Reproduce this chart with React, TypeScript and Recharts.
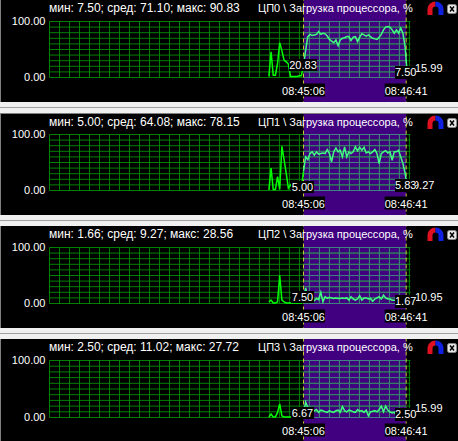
import React from "react";
import { LineChart, Line, XAxis, YAxis, ReferenceArea, ReferenceLine } from "recharts";

// seconds relative to 08:45:06
const sampleSeconds = [
  -32, -30, -28, -26, -24, -22, -20, -18, -16, -14, -12, -10, -8, -6, -4, -2,
  0, 2, 4, 6, 8, 10, 12, 14, 16, 18, 20, 22, 24, 26, 28, 30, 32, 34, 36, 38, 40, 42, 44, 46, 48,
  50, 52, 54, 56, 58, 60, 62, 64, 66, 68, 70, 72, 74, 76, 78, 80, 82, 84, 86, 88, 90, 92, 94, 96, 98,
];

const cpu0Values = [
  2, 46, 4, 4, 25, 62, 48, 31, 28, 24, 2, 2, 2, 2, 3, 3,
  21, 49, 73, 77, 75, 76, 77, 82, 77, 79, 78, 74, 68, 65, 62, 67, 57, 67, 70, 71,
  73, 73, 66, 72, 73, 64, 72, 78, 76, 74, 76, 73, 70, 69, 68, 72, 77, 85, 90, 91,
  90, 85, 79, 85, 79, 88, 79, 55, 7.5, 12,
];
const cpu1Values = [
  1, 40, 2, 2, 25, 2, 79, 55, 31, 4, 10, 5, 5, 4, 4, 5,
  34, 60, 55, 66, 69, 63, 69, 65, 66, 67, 66, 73, 66, 51, 69, 76, 69, 72, 60, 78,
  60, 69, 66, 69, 78, 71, 77, 72, 77, 67, 69, 66, 69, 73, 66, 48, 66, 69, 71, 67,
  69, 54, 69, 69, 72, 60, 48, 31, 6, 6,
];
const cpu2Values = [
  3, 6, 1, 1, 3, 50, 6, 3, 1, 1, 1, 1, 1, 1, 1, 1,
  7.5, 28, 10, 8, 6, 5, 9, 7, 20, 3, 12, 9, 11, 10, 9, 10, 9, 9, 10, 9,
  10, 6, 12, 8, 6, 8, 14, 6, 10, 10, 8, 9, 4, 8, 10, 12, 8, 15, 10, 8,
  8, 6, 6, 5, 5, 4, 4, 3, 2, 1.67,
];
const cpu3Values = [
  1, 6, 1, 1, 9, 24, 3, 1, 1, 1, 1, 1, 1, 1, 1, 1,
  7, 27, 18, 14, 12, 12, 14, 9, 13, 12, 10, 9, 12, 10, 9, 12, 13, 9, 19, 12,
  10, 13, 12, 10, 9, 14, 11, 12, 9, 13, 3, 10, 11, 12, 10, 14, 20, 10, 20, 13,
  10, 8, 9, 3, 5, 6, 4, 3, 2.5, 2.5,
];

const seriesValues = [cpu0Values, cpu1Values, cpu2Values, cpu3Values];
const statsLabels = [
  "мин: 7.50; сред: 71.10; макс: 90.83",
  "мин: 5.00; сред: 64.08; макс: 78.15",
  "мин: 1.66; сред: 9.27; макс: 28.56",
  "мин: 2.50; сред: 11.02; макс: 27.72",
];
const titleLabels = [
  "ЦП0 \\ Загрузка процессора, %",
  "ЦП1 \\ Загрузка процессора, %",
  "ЦП2 \\ Загрузка процессора, %",
  "ЦП3 \\ Загрузка процессора, %",
];
const startLabels = ["20.83", "5.00", "7.50", "6.67"];
const endLabels = ["7.50", "5.83", "1.67", "2.50"];
const sideLabels = ["15.99", "9.27", "10.95", "15.99"];
const timeTicks = [0, 95];
const timeLabels = ["08:45:06", "08:46:41"];

// layout, in page pixels
const panelBoxes = [
  { top: 0, bottom: 102, plotTop: 21.5, plotBottom: 77.5, startY: 59, endY: 66, sideX: 414, sideY: 61 },
  { top: 114, bottom: 215, plotTop: 134.5, plotBottom: 190.5, startY: 181, endY: 179, sideX: 412, sideY: 178 },
  { top: 226, bottom: 328, plotTop: 247.5, plotBottom: 303.5, startY: 291, endY: 295, sideX: 414, sideY: 290 },
  { top: 339, bottom: 441, plotTop: 360.5, plotBottom: 417.5, startY: 407, endY: 408, sideX: 414, sideY: 401 },
];

const WIDTH = 458;
const X_DOMAIN: [number, number] = [-235, 99];
const BAND_START = 0;
const BAND_END = 95;
const PURPLE = "#400080";
const GRID_GREEN = "#008000";
const GRID_IN_BAND = "#408080";
const FONT = '"Liberation Sans", Arial, sans-serif';

const gridSeconds = Array.from({ length: 37 }, (_, i) => -235 + i * 9.25);
const gridPercents = [0, 10, 20, 30, 40, 50, 60, 70, 80, 90, 100];

const TimeTick = ({ x, y, payload }: any) => {
  const label = timeLabels[timeTicks.indexOf(payload.value)];
  return (
    <g>
      <rect x={x - 21.5} y={y - 2} width={43} height={13} fill="#000" />
      <text x={x} y={y + 9} textAnchor="middle" fontFamily={FONT} fontSize={11} fill="#fff">
        {label}
      </text>
    </g>
  );
};

const BoxLabel = ({ text, left, top, width, height }: any) => (
  <div
    style={{
      position: "absolute",
      left,
      top,
      width,
      height,
      lineHeight: `${height}px`,
      background: "#000",
      color: "#fff",
      font: `11px ${FONT}`,
      textAlign: "center",
      whiteSpace: "nowrap",
    }}
  >
    {text}
  </div>
);

const Panel = ({ index }: { index: number }) => {
  const box = panelBoxes[index];
  const height = box.bottom - box.top;
  const values = seriesValues[index];
  const data = sampleSeconds.map((t, i) => ({
    t,
    before: t <= 0 ? values[i] : null,
    inside: t >= 0 ? values[i] : null,
  }));
  const textStyle: React.CSSProperties = {
    position: "absolute",
    color: "#fff",
    font: `12px ${FONT}`,
    whiteSpace: "nowrap",
    lineHeight: "14px",
  };

  return (
    <div
      style={{
        position: "absolute",
        left: 0,
        top: box.top,
        width: WIDTH,
        height,
        background: "#000",
        borderLeft: "1px solid #808080",
        boxSizing: "border-box",
        overflow: "hidden",
      }}
    >
      <div style={{ position: "absolute", left: -1, top: 0 }}>
        <LineChart
          width={WIDTH}
          height={height}
          data={data}
          margin={{ top: box.plotTop - box.top, right: 47.5, bottom: 0, left: 0 }}
        >
          {gridSeconds.map((t) => (
            <ReferenceLine
              key={`gv${t}`}
              segment={[
                { x: t, y: 0 },
                { x: t, y: 100 },
              ]}
              stroke={GRID_GREEN}
            />
          ))}
          {gridPercents.map((p) => (
            <ReferenceLine
              key={`gh${p}`}
              segment={[
                { x: X_DOMAIN[0], y: p },
                { x: X_DOMAIN[1], y: p },
              ]}
              stroke={GRID_GREEN}
            />
          ))}
          <ReferenceArea
            x1={BAND_START}
            x2={BAND_END}
            y1={-100}
            y2={200}
            ifOverflow="visible"
            fill={PURPLE}
            fillOpacity={1}
            stroke="none"
          />
          {gridSeconds
            .filter((t) => t > BAND_START && t < BAND_END)
            .map((t) => (
              <ReferenceLine
                key={`v${t}`}
                segment={[
                  { x: t, y: 0 },
                  { x: t, y: 100 },
                ]}
                stroke={GRID_IN_BAND}
              />
            ))}
          {gridPercents.map((p) => (
            <ReferenceLine
              key={`h${p}`}
              segment={[
                { x: BAND_START, y: p },
                { x: BAND_END, y: p },
              ]}
              stroke={GRID_IN_BAND}
            />
          ))}
          <XAxis
            dataKey="t"
            type="number"
            domain={X_DOMAIN}
            allowDataOverflow
            ticks={timeTicks}
            height={box.bottom - box.plotBottom}
            axisLine={false}
            tickLine={false}
            tick={<TimeTick />}
            interval={0}
          />
          <YAxis
            type="number"
            domain={[0, 100]}
            ticks={[0, 100]}
            width={49.5}
            axisLine={false}
            tickLine={false}
            tickMargin={-2}
            tickFormatter={(v: number) => v.toFixed(2)}
            tick={{ fill: "#fff", fontFamily: FONT, fontSize: 11 }}
          />
          {timeTicks.map((t) => (
            <ReferenceLine
              key={t}
              segment={[
                { x: t, y: -100 },
                { x: t, y: 200 },
              ]}
              ifOverflow="visible"
              stroke="#c8c832"
              strokeDasharray="4 3"
            />
          ))}
          <Line
            dataKey="before"
            type="linear"
            stroke="#00ff00"
            strokeWidth={1.5}
            dot={false}
            isAnimationActive={false}
          />
          <Line
            dataKey="inside"
            type="linear"
            stroke="#40ff80"
            strokeWidth={1.5}
            dot={false}
            isAnimationActive={false}
          />
        </LineChart>
      </div>

      <div style={{ ...textStyle, left: 48, top: 1 }}>{statsLabels[index]}</div>
      <div style={{ ...textStyle, left: 257, top: 1, fontSize: 11 }}>{titleLabels[index]}</div>
      <div style={{ ...textStyle, left: box.sideX, top: box.sideY - box.top, fontSize: 11 }}>{sideLabels[index]}</div>
      <BoxLabel text={startLabels[index]} left={index === 0 ? 288 : 290} top={box.startY - box.top} width={index === 0 ? 28 : 23} height={12} />
      <BoxLabel text={endLabels[index]} left={394} top={box.endY - box.top} width={21} height={13} />

      <svg style={{ position: "absolute", left: 423.5, top: 1 }} width={33} height={16}>
        <path d="M5 14 V8 A5.5 5.5 0 0 1 10.5 3" fill="none" stroke="#e01020" strokeWidth={5} />
        <path d="M10.5 3 A5.5 5.5 0 0 1 16 8 V14" fill="none" stroke="#1020e0" strokeWidth={5} />
        <rect x={22.5} y={3.5} width={9} height={9} rx={2} fill="#e8e8e8" stroke="#888" />
        <path d="M25 5.5 L29 10.5 M29 5.5 L25 10.5" stroke="#000" strokeWidth={1.5} />
      </svg>
    </div>
  );
};

const separatorYs = [102, 215, 328];

export default function App() {
  return (
    <div
      style={{
        position: "absolute",
        left: 0,
        top: 0,
        width: WIDTH,
        height: 441,
        background: "#f0f0f0",
        overflow: "hidden",
      }}
    >
      {separatorYs.map((y) => (
        <React.Fragment key={y}>
          <div style={{ position: "absolute", left: 0, top: y + 5, width: WIDTH, height: 1, background: "#a0a0a0" }} />
          <div style={{ position: "absolute", left: 0, top: y + 11, width: WIDTH, height: 1, background: "#808080" }} />
        </React.Fragment>
      ))}
      {panelBoxes.map((_, i) => (
        <Panel key={i} index={i} />
      ))}
    </div>
  );
}
